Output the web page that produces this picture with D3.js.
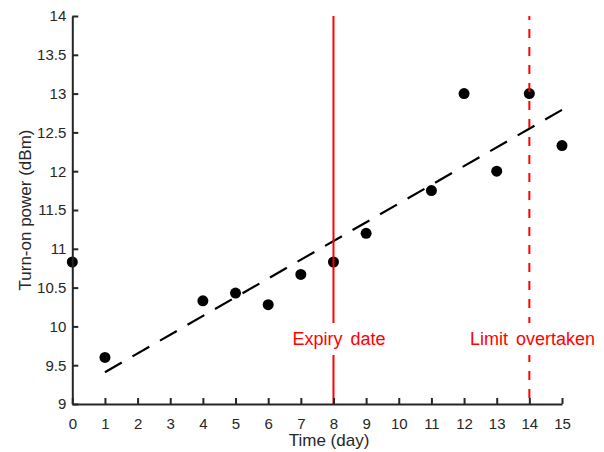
<!DOCTYPE html>
<html>
<head>
<meta charset="utf-8">
<script src="https://cdn.jsdelivr.net/npm/d3@7"></script>
<style>
  body { margin: 0; background: #fff; }
  svg { display: block; font-family: "Liberation Sans", Arial, sans-serif; }
</style>
</head>
<body>
<div id="chart"></div>
<script>
// Measured points
var days = [0, 1, 4, 5, 6, 7, 8, 9, 11, 12, 13, 14, 15];
var power = [10.83, 9.6, 10.33, 10.43, 10.28, 10.67, 10.83, 11.2, 11.75, 13, 12, 13, 12.33];

// Fitted trend, end points
var trendDays = [1, 15];
var trendPower = [9.41, 12.79];

// Vertical markers
var markerDays = [8, 14];
var markerLabels = ["Expiry date", "Limit overtaken"];
var markerDash = [null, "9,9"];

var xTicks = d3.range(0, 16, 1);
var yTicks = [9, 9.5, 10, 10.5, 11, 11.5, 12, 12.5, 13, 13.5, 14];

var width = 604, height = 452;
var margin = { top: 16, right: 42, bottom: 48, left: 72.3 };

var svg = d3.select("#chart").append("svg")
    .attr("width", width)
    .attr("height", height);

var x = d3.scaleLinear().domain([0, 15]).range([margin.left, width - margin.right]);
var y = d3.scaleLinear().domain([9, 14]).range([height - margin.bottom, margin.top]);

// clip for the text that runs off the right edge
svg.append("defs").append("clipPath").attr("id", "fig")
    .append("rect").attr("x", 0).attr("y", 0).attr("width", 594).attr("height", height);

// trend line, dashes fitted so it starts and ends on a full dash
var line = d3.line().x(function(d) { return x(d[0]); }).y(function(d) { return y(d[1]); });
var trend = svg.append("path")
    .datum(d3.zip(trendDays, trendPower))
    .attr("d", line)
    .attr("fill", "none")
    .attr("stroke", "#000")
    .attr("stroke-width", 2.2);
var len = trend.node().getTotalLength();
var dash = 19.4;
var period = (len - dash) / 16;
trend.attr("stroke-dasharray", dash + "," + (period - dash));

// points
svg.append("g").selectAll("circle")
    .data(d3.zip(days, power))
    .join("circle")
    .attr("cx", function(d) { return x(d[0]); })
    .attr("cy", function(d) { return y(d[1]); })
    .attr("r", 5.5)
    .attr("fill", "#000");

// red markers
var markers = svg.append("g").attr("clip-path", "url(#fig)");
markerDays.forEach(function(d, i) {
    markers.append("line")
        .attr("x1", x(d)).attr("x2", x(d))
        .attr("y1", y(14)).attr("y2", y(9))
        .attr("stroke", "#ff0000")
        .attr("stroke-width", 2)
        .attr("stroke-dasharray", markerDash[i])
        .attr("stroke-dashoffset", markerDash[i] ? 5 : null);
});

// labels with white background
var labelY = 339;
markerDays.forEach(function(d, i) {
    var g = markers.append("g");
    var t = g.append("text")
        .attr("x", i === 0 ? 292.5 : 470)
        .attr("y", labelY)
        .attr("dy", "0.35em")
        .attr("fill", "#ff0000")
        .style("font-size", "18px")
        .style("word-spacing", "3px")
        .text(markerLabels[i]);
    var bb = t.node().getBBox();
    g.insert("rect", "text")
        .attr("x", bb.x - 4)
        .attr("y", 323)
        .attr("width", bb.width + 8)
        .attr("height", 32)
        .attr("fill", "#fff");
});

// axes
var xAxis = svg.append("g")
    .attr("transform", "translate(0," + y(9) + ")")
    .call(d3.axisBottom(x).tickValues(xTicks).tickSizeInner(-6).tickSizeOuter(0).tickPadding(14));
var yAxis = svg.append("g")
    .attr("transform", "translate(" + x(0) + ",0)")
    .call(d3.axisLeft(y).tickValues(yTicks).tickFormat(d3.format("")).tickSizeInner(-6).tickSizeOuter(0).tickPadding(6));

[xAxis, yAxis].forEach(function(a) {
    a.select(".domain").attr("stroke", "#262626").attr("stroke-width", 2);
    a.selectAll(".tick line").attr("stroke", "#262626").attr("stroke-width", 2);
    a.selectAll(".tick text")
        .attr("fill", "#262626")
        .style("font-size", "15px")
        .style("font-family", "\"Liberation Sans\", Arial, sans-serif");
});

// axis titles
svg.append("text")
    .attr("x", 329)
    .attr("y", 440)
    .attr("dy", "0.35em")
    .attr("text-anchor", "middle")
    .attr("fill", "#262626")
    .style("font-size", "17px")
    .text("Time (day)");

svg.append("text")
    .attr("transform", "translate(25,210) rotate(-90)")
    .attr("text-anchor", "middle")
    .attr("dy", "0.35em")
    .attr("fill", "#262626")
    .style("font-size", "17px")
    .text("Turn-on power (dBm)");
</script>
</body>
</html>
